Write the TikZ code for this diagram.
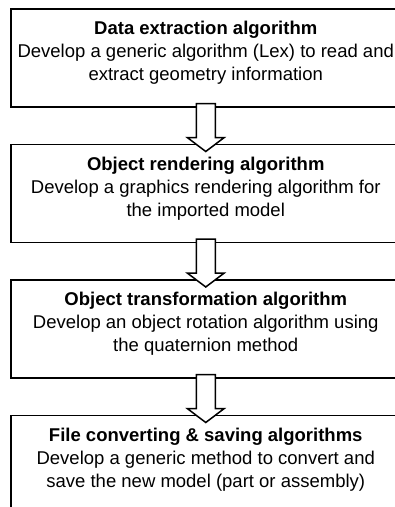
\documentclass[tikz,border=0pt]{standalone}
\usepackage{fontspec}
\setmainfont{Liberation Sans}
\usepackage{tikz}
\usetikzlibrary{positioning}
\usetikzlibrary{calc}

\begin{document}
\begin{tikzpicture}[
      node distance=36pt,
      box/.style={
          rectangle,
          draw,
          line width=1.5pt,
          align=center,
          minimum width=390pt,
          minimum height=98pt,
          text depth=13pt,
          font=\fontsize{18.5}{23}\selectfont
        },
      blockarrow/.style={
          draw,
          fill=white,
          line width=1.5pt,
          line join=miter
        }
    ]

    % Frame
    \useasboundingbox (0,0) rectangle (395pt,-507pt);
    \clip (0,0) rectangle (395pt,-507pt);

    % Steps
    \node[box, anchor=north west] (data) at (10pt,-8pt) {\textbf{Data extraction algorithm}\\Develop a generic algorithm (Lex) to read and\\extract geometry information};
    \node[box, below=of data] (render) {\textbf{Object rendering algorithm}\\Develop a graphics rendering algorithm for\\the imported model};
    \node[box, below=of render] (transform) {\textbf{Object transformation algorithm}\\Develop an object rotation algorithm using\\the quaternion method};
    \node[box, below=of transform] (convert) {\textbf{File converting \& saving algorithms}\\Develop a generic method to convert and\\save the new model (part or assembly)};

    % Arrows
    \draw[blockarrow] ($(data.south)+(-9.5pt,4pt)$) -- ($(render.north)+(-9.5pt,6pt)$) -- ($(render.north)+(-18.5pt,6pt)$) -- ($(render.north)+(0,-8pt)$) -- ($(render.north)+(18.5pt,6pt)$) -- ($(render.north)+(9.5pt,6pt)$) -- ($(data.south)+(9.5pt,4pt)$) -- cycle;
    \draw[blockarrow] ($(render.south)+(-9.5pt,4pt)$) -- ($(transform.north)+(-9.5pt,6pt)$) -- ($(transform.north)+(-18.5pt,6pt)$) -- ($(transform.north)+(0,-8pt)$) -- ($(transform.north)+(18.5pt,6pt)$) -- ($(transform.north)+(9.5pt,6pt)$) -- ($(render.south)+(9.5pt,4pt)$) -- cycle;
    \draw[blockarrow] ($(transform.south)+(-9.5pt,4pt)$) -- ($(convert.north)+(-9.5pt,6pt)$) -- ($(convert.north)+(-18.5pt,6pt)$) -- ($(convert.north)+(0,-8pt)$) -- ($(convert.north)+(18.5pt,6pt)$) -- ($(convert.north)+(9.5pt,6pt)$) -- ($(transform.south)+(9.5pt,4pt)$) -- cycle;
  \end{tikzpicture}
\end{document}
